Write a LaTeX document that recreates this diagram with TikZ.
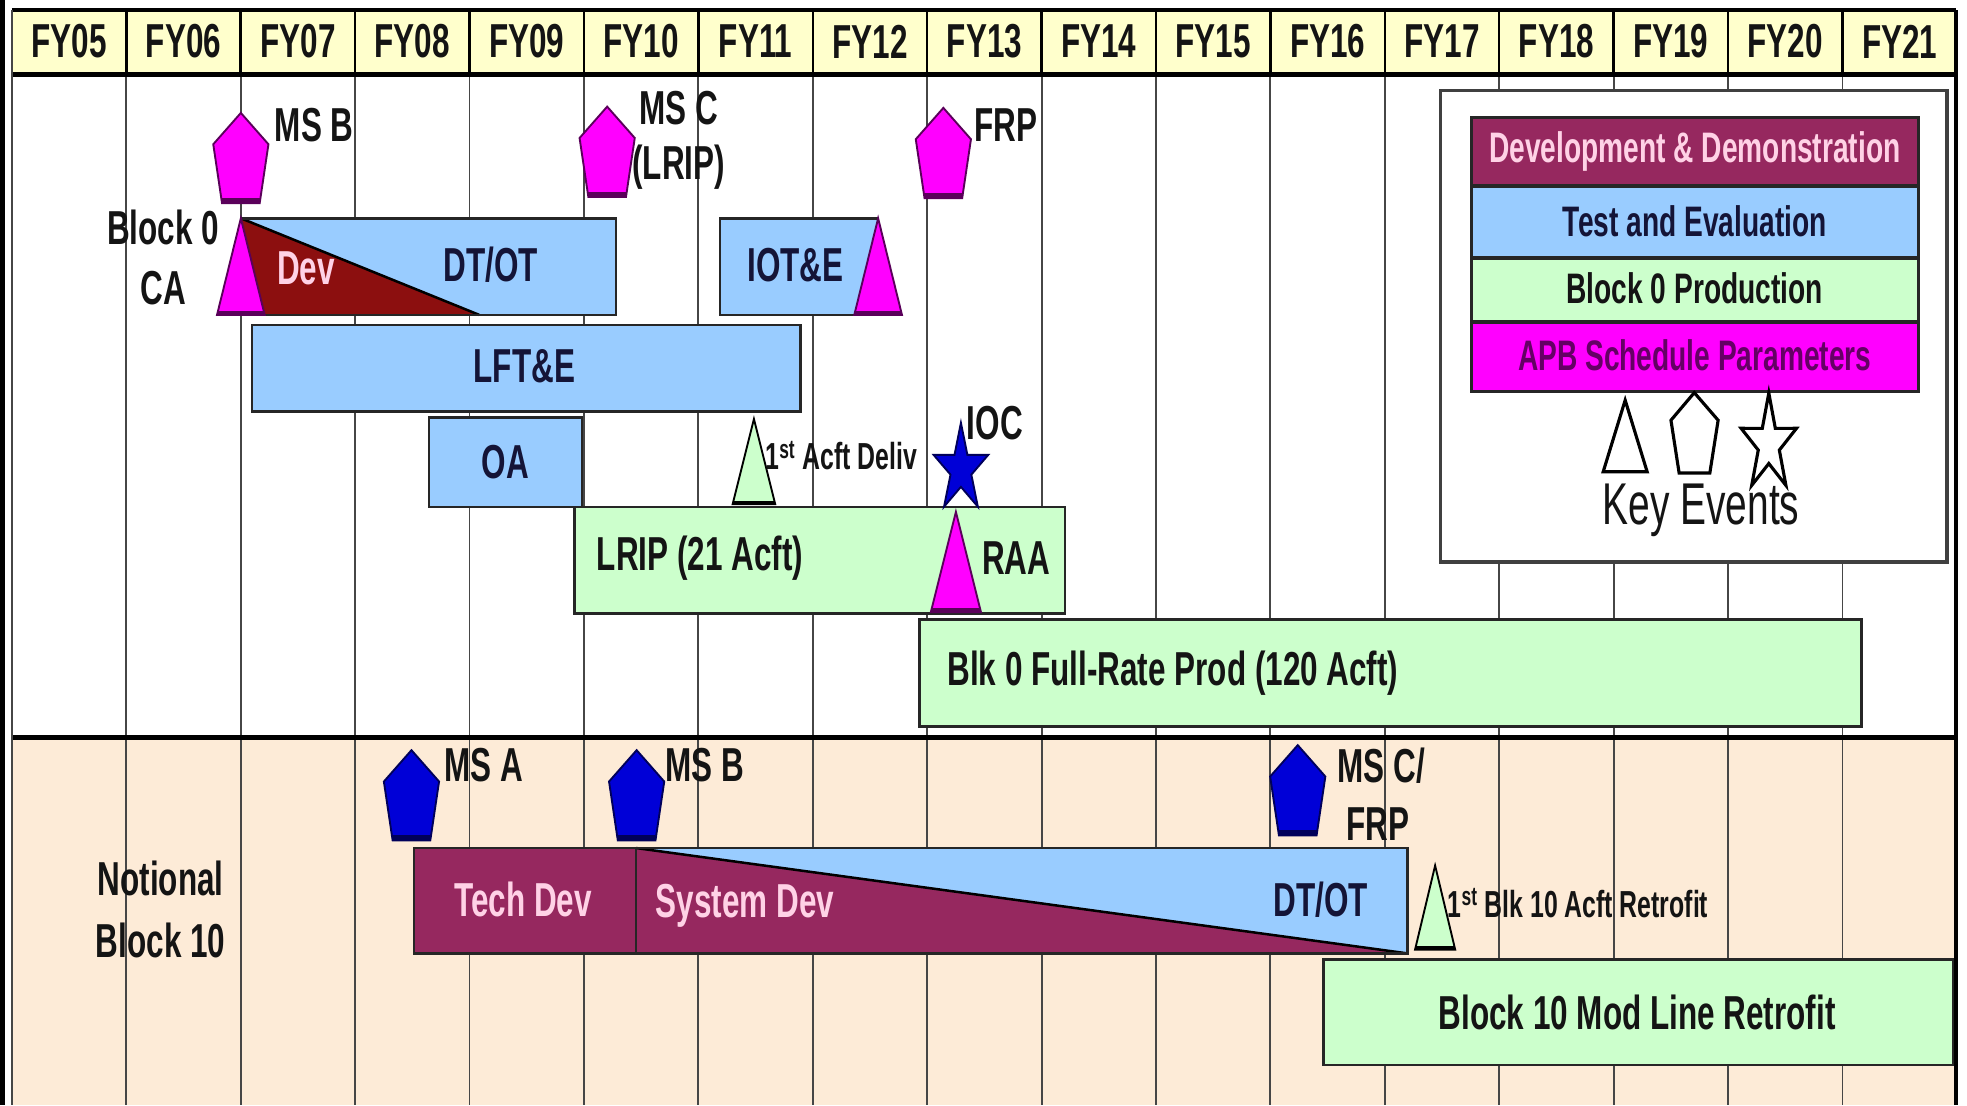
\documentclass[tikz,border=0pt]{standalone}
\usepackage{fontspec}
\setmainfont[FakeStretch=0.66]{Liberation Sans}
\definecolor{magA}{RGB}{255,0,255}
\definecolor{magE}{RGB}{90,0,90}
\definecolor{devred}{RGB}{140,15,15}
\definecolor{maroonc}{RGB}{150,40,95}
\definecolor{tblue}{RGB}{153,204,255}
\definecolor{pgreen}{RGB}{204,255,204}
\definecolor{msblue}{RGB}{0,0,215}
\definecolor{msblueE}{RGB}{0,0,90}
\definecolor{hdrfill}{RGB}{255,255,204}
\definecolor{beige}{RGB}{253,235,215}
\definecolor{navy}{RGB}{20,20,55}
\definecolor{pinkt}{RGB}{255,210,230}
\definecolor{gridc}{RGB}{70,70,70}
\definecolor{apbtext}{RGB}{100,0,100}
\definecolor{txt}{RGB}{20,20,20}
\newcommand\mspent[4]{%
  \filldraw[fill=#3, draw=#4, line width=1.5pt, line join=miter] (#1,#2) -- ++(22,25) -- ++(-7,47) -- ++(-30,0) -- ++(-7,-47) -- cycle;
  \draw[#4, line width=4pt] ({#1-15},{#2+70}) -- ({#1+15},{#2+70});
}
\newcommand\mstri[6]{%
  \filldraw[fill=#5, draw=#6, line width=1.5pt] (#1,#2) -- ({#1+#3},#4) -- ({#1-#3},#4) -- cycle;
  \draw[#6, line width=3pt] ({#1-#3},{#4-1.5}) -- ({#1+#3},{#4-1.5});
}
\begin{document}
\begin{tikzpicture}[x=1pt,y=-1pt,
  bar/.style={draw=black!85, line width=2pt},
  hdr/.style={font=\fontsize{38}{42}\selectfont\bfseries, text=txt, inner sep=0pt},
  lbl/.style={font=\fontsize{38}{41}\selectfont\bfseries, text=txt, inner sep=0pt},
  sml/.style={font=\fontsize{30}{33}\selectfont\bfseries, text=txt, inner sep=0pt},
  leg/.style={font=\fontsize{34}{37}\selectfont\bfseries, inner sep=0pt}]
\useasboundingbox (0,0) rectangle (1568,881);
\fill[white] (0,0) rectangle (1568,881);
\fill[beige] (9.5,589) rectangle (1559,881);
% grid lines
\foreach \k in {1,...,16} \draw[gridc, line width=1.5pt] ({9.5+\k*91.2},58) -- ({9.5+\k*91.2},881);
% header
\fill[hdrfill] (9.5,8) rectangle (1559,58);
\foreach \k in {1,...,16} \draw[black, line width=2pt] ({9.5+\k*91.2},8) -- ({9.5+\k*91.2},58);
\draw[black, line width=2.5pt] (9.5,8) -- (1559,8);
\draw[black, line width=4pt] (9.5,59) -- (1559,59);
\foreach \k/\t in {0/FY05,1/FY06,2/FY07,3/FY08,4/FY09,5/FY10,6/FY11,7/FY12,8/FY13,9/FY14,10/FY15,11/FY16,12/FY17,13/FY18,14/FY19,15/FY20,16/FY21}
  \node[hdr] (h\k) at ({9.5+(\k+0.5)*91.2},33) {\t};
% separator and frame
\draw[black, line width=4pt] (9.5,588) -- (1559,588);
\draw[gridc, line width=1.5pt] (9.5,8) -- (9.5,881);
\draw[black, line width=4pt] (2,0) -- (2,881);
\draw[black, line width=3pt] (1559,8) -- (1559,881);

% ---------- Block 0 ----------
\mspent{192}{90}{magA}{magE}
\node[lbl, anchor=west] (msb) at (219,100) {MS B};
\node[lbl] (blk0) at (130,181) {Block 0};
\node[lbl] (ca) at (130,230) {CA};

\filldraw[fill=tblue, bar] (192,174) rectangle (491,251);
\fill[devred] (192,174) -- (382,251) -- (192,251) -- cycle;
\draw[black, line width=2pt] (192,174) -- (382,251);
\draw[bar] (192,174) rectangle (491,251);
\node[lbl, text=pinkt] (dev) at (244,214) {Dev};
\node[lbl, text=navy] (dtot) at (391,211) {DT/OT};
\mstri{192}{174}{19}{251}{magA}{magE}

\mspent{484}{85}{magA}{magE}
\node[lbl] (msc) at (541,86) {MS C};
\node[lbl] (lripl) at (541,133) {(LRIP)};

\mspent{752}{86}{magA}{magE}
\node[lbl] (frp) at (802,100) {FRP};

\filldraw[fill=tblue, bar] (574,174) rectangle (700,251);
\node[lbl, text=navy] (iote) at (634,211) {IOT\&E};
\mstri{700}{174}{19}{251}{magA}{magE}

\filldraw[fill=tblue, bar] (201,259) rectangle (638,328);
\node[lbl, text=navy] (lfte) at (418,292) {LFT\&E};

\filldraw[fill=tblue, bar] (342,333) rectangle (464,404);
\node[lbl, text=navy] (oa) at (403,368) {OA};

\filldraw[fill=pgreen, bar] (458,404) rectangle (849,489);
\node[lbl] (lrip) at (558,445) {LRIP (21 Acft)};
\mstri{762}{408}{20}{488}{magA}{magE}
\node[lbl] (raa) at (810,445) {RAA};

\mstri{601}{334}{17}{402}{pgreen}{black}
\node[sml, anchor=west] (acft) at (610,363) {1\textsuperscript{st} Acft Deliv};

\begin{scope}[shift={(766,374)}, xscale=0.62]
\filldraw[fill=msblue, draw=msblueE, line width=1.5pt]
  (90:37pt) -- (126:14.1pt) -- (162:37pt) -- (198:14.1pt) -- (234:37pt) -- (270:14.1pt)
  -- (306:37pt) -- (342:14.1pt) -- (18:37pt) -- (54:14.1pt) -- cycle;
\end{scope}
\node[lbl] (ioc) at (793,337) {IOC};

\filldraw[fill=pgreen, bar] (733,494) rectangle (1484,579);
\node[lbl, anchor=west] (fullrate) at (755,537) {Blk 0 Full-Rate Prod (120 Acft)};

% ---------- Legend ----------
\filldraw[fill=white, draw=black!75, line width=2.5pt] (1148,72) rectangle (1552,448);
\filldraw[fill=maroonc, draw=black!85, line width=2.5pt] (1173,94) rectangle (1529,148);
\filldraw[fill=tblue, draw=black!85, line width=2.5pt] (1173,149) rectangle (1529,205);
\filldraw[fill=pgreen, draw=black!85, line width=2.5pt] (1173,206) rectangle (1529,256);
\filldraw[fill=magA, draw=black!85, line width=2.5pt] (1173,257) rectangle (1529,312);
\node[leg, text=pinkt] (l1) at (1351,121) {Development \& Demonstration};
\node[leg, text=navy] (l2) at (1351,176) {Test and Evaluation};
\node[leg, text=txt] (l3) at (1351,230) {Block 0 Production};
\node[leg, text=apbtext] (l4) at (1351,283) {APB Schedule Parameters};
\draw[black, line width=2.5pt, fill=white] (1295.5,319) -- (1313,376) -- (1278,376) -- cycle;
\draw[black, line width=2.5pt, fill=white] (1350.6,313) -- (1369.6,335) -- (1363,377) -- (1338.5,377) -- (1332,335) -- cycle;
\begin{scope}[shift={(1410,354)}, xscale=0.57]
\filldraw[fill=white, draw=black, line width=2.5pt]
  (90:40.7pt) -- (126:15.5pt) -- (162:40.7pt) -- (198:15.5pt) -- (234:40.7pt) -- (270:15.5pt)
  -- (306:40.7pt) -- (342:15.5pt) -- (18:40.7pt) -- (54:15.5pt) -- cycle;
\end{scope}
\node[font=\fontsize{47}{50}\selectfont, text=txt, inner sep=0pt] (key) at (1356,407) {Key Events};

% ---------- Block 10 ----------
\node[lbl] (notional) at (128,700) {Notional};
\node[lbl] (blk10) at (128,750) {Block 10};

\mspent{328}{598}{msblue}{msblueE}
\node[lbl, anchor=west] (msa) at (354,610) {MS A};
\mspent{507.5}{598}{msblue}{msblueE}
\node[lbl, anchor=west] (msb2) at (530,610) {MS B};
\mspent{1034.5}{594}{msblue}{msblueE}
\node[lbl, anchor=west] (msc2) at (1066,610) {MS C/};
\node[lbl, anchor=west] (frp2) at (1073,657) {FRP};

\filldraw[fill=maroonc, bar] (330,676) rectangle (507,760);
\node[lbl, text=pinkt] (techdev) at (417,717) {Tech Dev};
\filldraw[fill=tblue, bar] (507,676) rectangle (1122,760);
\fill[maroonc] (507,676) -- (1122,760) -- (507,760) -- cycle;
\draw[black, line width=2pt] (507,676) -- (1122,760);
\draw[bar] (507,676) rectangle (1122,760);
\node[lbl, text=pinkt] (sysdev) at (594,722) {System Dev};
\node[lbl, text=navy] (dtot2) at (1053,717) {DT/OT};

\mstri{1144}{690}{16}{757}{pgreen}{black}
\node[sml, anchor=west] (retro1) at (1154,720) {1\textsuperscript{st} Blk 10 Acft Retrofit};

\filldraw[fill=pgreen, bar] (1055,765) rectangle (1557,849);
\node[lbl] (modline) at (1305,807) {Block 10 Mod Line Retrofit};
\end{tikzpicture}
\end{document}
